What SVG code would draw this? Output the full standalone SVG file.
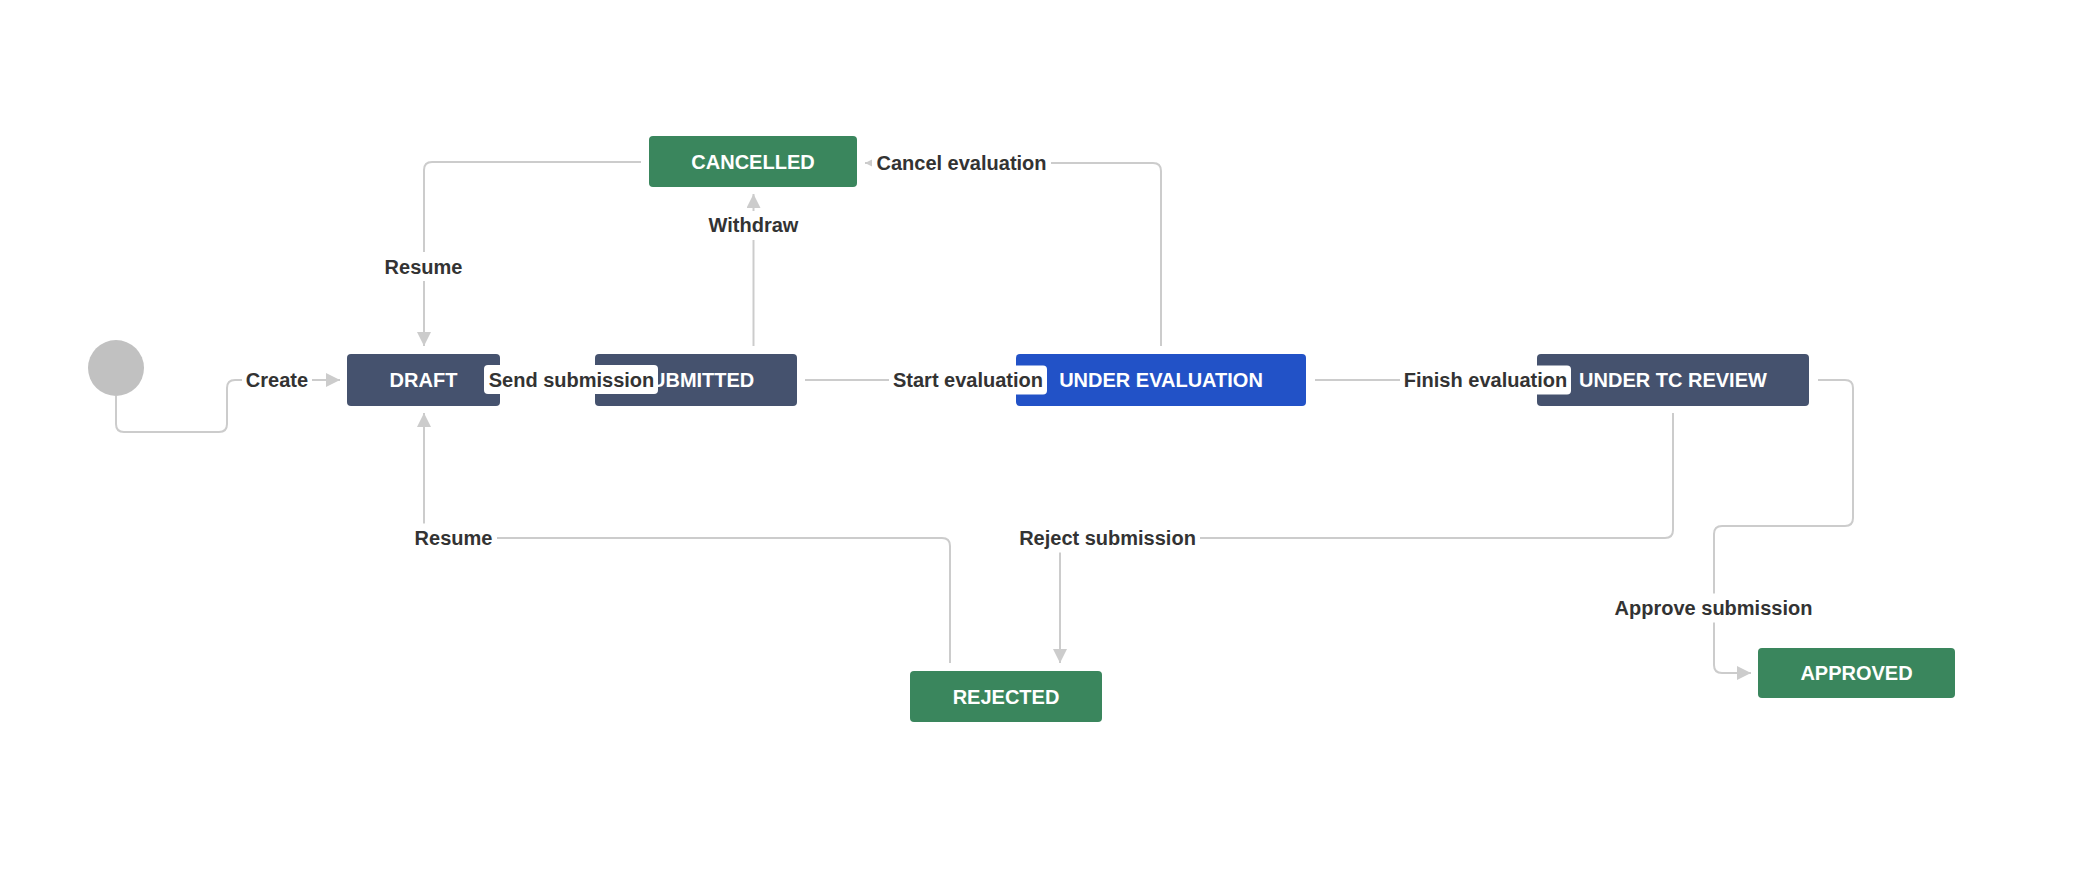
<svg xmlns="http://www.w3.org/2000/svg" width="2084" height="872" viewBox="0 0 2084 872">
<style>
  .node rect { rx: 4px; ry: 4px; }
  .dark { fill: #45526E; }
  .green { fill: #3A865D; }
  .blue { fill: #2252C7; }
  .ntext { font-family: "Liberation Sans", Arial, sans-serif; font-weight: bold; font-size: 20px; fill: #FFFFFF; text-anchor: middle; }
  .conn path { fill: none; stroke: #CCCCCC; stroke-width: 2; }
  .lbg { fill: #FFFFFF; }
  .ltext { font-family: "Liberation Sans", Arial, sans-serif; font-weight: bold; font-size: 20px; fill: #333333; text-anchor: middle; }
</style>
<defs>
  <marker id="arr" viewBox="0 0 14 14" refX="14" refY="7" markerWidth="14" markerHeight="14" markerUnits="userSpaceOnUse" orient="auto">
    <path d="M0,0 L14,7 L0,14 Z" fill="#CCCCCC"/>
  </marker>
</defs>
<rect width="2084" height="872" fill="#FFFFFF"/>

<g id="connectors" class="conn">
  <path id="c-create" d="M116,396 V424 Q116,432 124,432 H219 Q227,432 227,424 V388 Q227,380 235,380 H340" marker-end="url(#arr)"/>
  <path id="c-send" d="M508,380 H588" marker-end="url(#arr)"/>
  <path id="c-start" d="M805,380 H1009" marker-end="url(#arr)"/>
  <path id="c-finish" d="M1315,380 H1530" marker-end="url(#arr)"/>
  <path id="c-withdraw" d="M753.5,346 V194" marker-end="url(#arr)"/>
  <path id="c-cancel" d="M1161,346 V171 Q1161,163 1153,163 H865" marker-end="url(#arr)"/>
  <path id="c-resume-top" d="M641,162 H432 Q424,162 424,170 V346" marker-end="url(#arr)"/>
  <path id="c-resume-bottom" d="M950,663 V546 Q950,538 942,538 H432 Q424,538 424,530 V413" marker-end="url(#arr)"/>
  <path id="c-reject" d="M1673,413 V530 Q1673,538 1665,538 H1068 Q1060,538 1060,546 V663" marker-end="url(#arr)"/>
  <path id="c-approve" d="M1818,380 H1845 Q1853,380 1853,388 V518 Q1853,526 1845,526 H1722 Q1714,526 1714,534 V665 Q1714,673 1722,673 H1751" marker-end="url(#arr)"/>
</g>

<g id="start">
  <circle cx="116" cy="368" r="28" fill="#C1C1C1"/>
</g>
<g id="draft" class="node">
  <rect class="dark" x="347" y="354" width="153" height="52"/>
  <text class="ntext" x="423.5" y="387">DRAFT</text>
</g>
<g id="submitted" class="node">
  <rect class="dark" x="595" y="354" width="202" height="52"/>
  <text class="ntext" x="696" y="387">SUBMITTED</text>
</g>
<g id="under-evaluation" class="node">
  <rect class="blue" x="1016" y="354" width="290" height="52"/>
  <text class="ntext" x="1161" y="387">UNDER EVALUATION</text>
</g>
<g id="under-tc-review" class="node">
  <rect class="dark" x="1537" y="354" width="272" height="52"/>
  <text class="ntext" x="1673" y="387">UNDER TC REVIEW</text>
</g>
<g id="cancelled" class="node">
  <rect class="green" x="649" y="136" width="208" height="51"/>
  <text class="ntext" x="753" y="168.5">CANCELLED</text>
</g>
<g id="rejected" class="node">
  <rect class="green" x="910" y="671" width="192" height="51"/>
  <text class="ntext" x="1006" y="703.5">REJECTED</text>
</g>
<g id="approved" class="node">
  <rect class="green" x="1758" y="648" width="197" height="50"/>
  <text class="ntext" x="1856.5" y="680">APPROVED</text>
</g>

<g id="labels">
  <g id="l-create"><rect class="lbg" x="242" y="366" width="70" height="29" rx="4"/><text class="ltext" x="277" y="387">Create</text></g>
  <g id="l-send"><rect class="lbg" x="484" y="365" width="174" height="29" rx="4"/><text class="ltext" x="571.5" y="387">Send submission</text></g>
  <g id="l-start"><rect class="lbg" x="889" y="365.5" width="158" height="29" rx="4"/><text class="ltext" x="968" y="387">Start evaluation</text></g>
  <g id="l-finish"><rect class="lbg" x="1400" y="365.5" width="171" height="29" rx="4"/><text class="ltext" x="1485.5" y="387">Finish evaluation</text></g>
  <g id="l-withdraw"><rect class="lbg" x="704" y="211" width="99" height="29" rx="4"/><text class="ltext" x="753.5" y="232">Withdraw</text></g>
  <g id="l-cancel"><rect class="lbg" x="872" y="148.5" width="179" height="29" rx="4"/><text class="ltext" x="961.5" y="170">Cancel evaluation</text></g>
  <g id="l-resume-top"><rect class="lbg" x="381" y="252" width="85" height="29" rx="4"/><text class="ltext" x="423.5" y="274">Resume</text></g>
  <g id="l-resume-bottom"><rect class="lbg" x="411" y="523.5" width="86" height="29" rx="4"/><text class="ltext" x="453.5" y="545">Resume</text></g>
  <g id="l-reject"><rect class="lbg" x="1015" y="523.5" width="185" height="29" rx="4"/><text class="ltext" x="1107.5" y="545">Reject submission</text></g>
  <g id="l-approve"><rect class="lbg" x="1610" y="593.5" width="207" height="29" rx="4"/><text class="ltext" x="1713.5" y="615">Approve submission</text></g>
</g>
</svg>
